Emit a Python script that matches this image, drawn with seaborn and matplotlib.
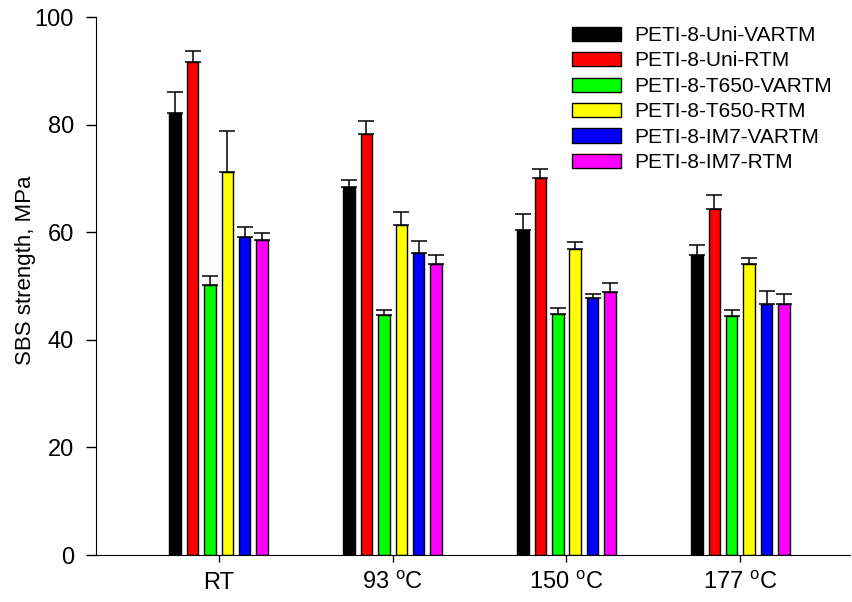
#plot.py
#SBS strength of PETI-8 composites at different test temperatures
import numpy as np
import pandas as pd
import matplotlib
matplotlib.use('Agg')
import matplotlib.pyplot as plt
import seaborn as sns

#Test temperatures (x categories)
temps = ['RT', '93 $\\mathregular{^{o}}$C', '150 $\\mathregular{^{o}}$C', '177 $\\mathregular{^{o}}$C']

#Panel types (hue)
panels = ['PETI-8-Uni-VARTM', 'PETI-8-Uni-RTM', 'PETI-8-T650-VARTM',
          'PETI-8-T650-RTM', 'PETI-8-IM7-VARTM', 'PETI-8-IM7-RTM']

#Mean SBS strength, MPa (one list per panel, in temps order)
uni_vartm = [82.1, 68.4, 60.4, 55.7]
uni_rtm = [91.6, 78.3, 70.1, 64.3]
t650_vartm = [50.1, 44.6, 44.8, 44.4]
t650_rtm = [71.1, 61.3, 56.9, 54.1]
im7_vartm = [59.1, 56.1, 47.7, 46.6]
im7_rtm = [58.6, 54.1, 48.8, 46.6]

#Upper error (standard deviation), MPa
uni_vartm_err = [3.9, 1.3, 2.9, 1.9]
uni_rtm_err = [2.1, 2.3, 1.7, 2.7]
t650_vartm_err = [1.7, 0.9, 1.1, 1.1]
t650_rtm_err = [7.8, 2.5, 1.2, 1.1]
im7_vartm_err = [1.9, 2.2, 0.9, 2.4]
im7_rtm_err = [1.2, 1.6, 1.8, 2.0]

means = [uni_vartm, uni_rtm, t650_vartm, t650_rtm, im7_vartm, im7_rtm]
errors = [uni_vartm_err, uni_rtm_err, t650_vartm_err, t650_rtm_err, im7_vartm_err, im7_rtm_err]

colours = ['black', 'red', '#00ff00', 'yellow', 'blue', 'magenta']

#Long format table for seaborn
rows = []
for panel, vals in zip(panels, means):
    for temp, v in zip(temps, vals):
        rows.append({'Temperature': temp, 'Panel': panel, 'SBS': v})
df = pd.DataFrame(rows)

plt.rcParams['font.family'] = ['Liberation Sans', 'DejaVu Sans']
plt.rcParams['mathtext.fontset'] = 'custom'
plt.rcParams['mathtext.rm'] = 'Liberation Sans'

fig = plt.figure(figsize=(8.52, 6.02), dpi=100)
ax = fig.add_axes([96/852, 47/602, 754/852, 538/602])

sns.barplot(data=df, x='Temperature', y='SBS', hue='Panel', order=temps, hue_order=panels,
            palette=colours, saturation=1, width=0.6, gap=0.34, edgecolor='black',
            linewidth=1, errorbar=None, ax=ax)

handles, labels = ax.get_legend_handles_labels()

#Upper error bars only
for container, err in zip(ax.containers, errors):
    xs = [p.get_x() + p.get_width() / 2 for p in container.patches]
    hs = [p.get_height() for p in container.patches]
    ax.errorbar(xs, hs, yerr=[np.zeros(len(err)), err], fmt='none', ecolor='black',
                elinewidth=1.1, capsize=6, capthick=1.1, zorder=1)

ax.legend(handles, labels, loc='upper left', bbox_to_anchor=(572/852, 1 - 26/602),
          bbox_transform=fig.transFigure, frameon=False, fontsize=15,
          handlelength=2.35, handleheight=0.67, handletextpad=0.62, labelspacing=0.31,
          borderpad=0, borderaxespad=0)

ax.set_xlim(-0.705, 3.63)
ax.set_ylim(0, 100)
ax.set_yticks([0, 20, 40, 60, 80, 100])
ax.set_xlabel('')
ax.set_ylabel('SBS strength, MPa', fontsize=16)
ax.yaxis.set_label_coords(-0.080, 0.53)
ax.tick_params(axis='both', labelsize=17, direction='out', width=1)
ax.tick_params(axis='y', length=7, pad=9)
ax.tick_params(axis='x', length=5, pad=7)
ax.spines['top'].set_visible(False)
ax.spines['right'].set_visible(False)

plt.savefig('out.png', dpi=100)
